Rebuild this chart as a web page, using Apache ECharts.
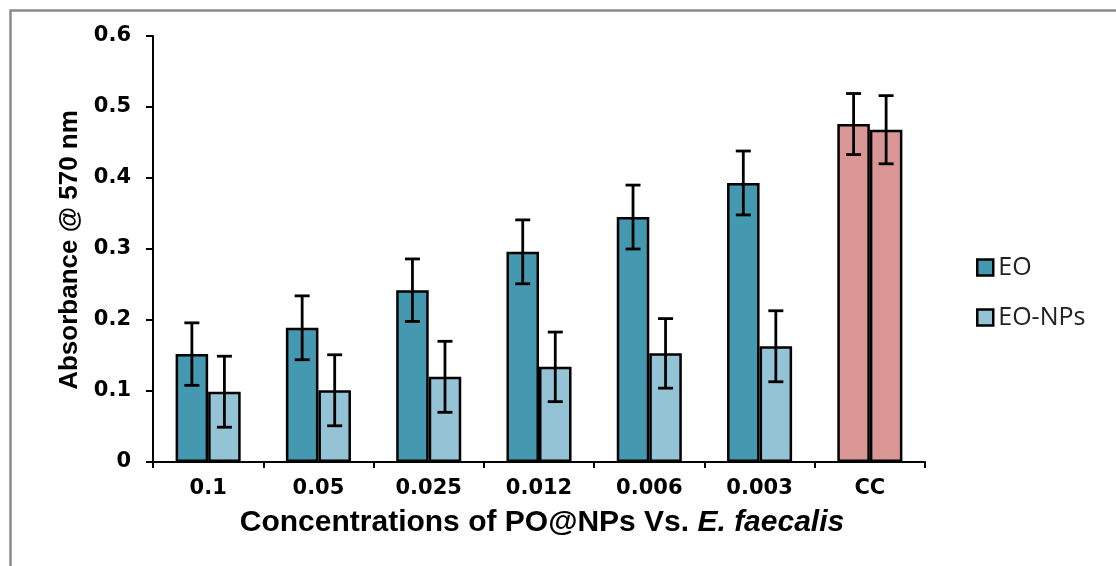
<!DOCTYPE html>
<html>
<head>
<meta charset="utf-8">
<script src="https://cdn.jsdelivr.net/npm/echarts@6/dist/echarts.min.js"></script>
<style>html,body{margin:0;padding:0;background:#fff;}#c{width:1116px;height:566px;}</style>
</head>
<body>
<div id="c"></div>
<script>
const categories = ['0.1', '0.05', '0.025', '0.012', '0.006', '0.003', 'CC'];
const eo = [0.152, 0.189, 0.242, 0.296, 0.345, 0.393, 0.476];
const eoErr = [0.044, 0.045, 0.044, 0.045, 0.045, 0.045, 0.043];
const eoNps = [0.099, 0.101, 0.120, 0.134, 0.153, 0.163, 0.468];
const eoNpsErr = [0.050, 0.050, 0.050, 0.049, 0.049, 0.050, 0.048];
const seriesNames = ['EO', 'EO-NPs'];

const colEO = '#4499B0', colNP = '#94C3D5', colCC = '#D99694';
const gapPct = 0.41;

function barData(vals, col) {
  return vals.map((v, i) => categories[i] === 'CC'
    ? { value: v, itemStyle: { color: colCC } }
    : { value: v, itemStyle: { color: col } });
}
const errData = [];
eo.forEach((v, i) => errData.push([i, v, eoErr[i], 0]));
eoNps.forEach((v, i) => errData.push([i, v, eoNpsErr[i], 1]));

const chart = echarts.init(document.getElementById('c'));
chart.setOption({
  animation: false,
  backgroundColor: '#fff',
  grid: { left: 153, right: 191, top: 36, bottom: 104, containLabel: false },
  legend: {
    data: seriesNames,
    orient: 'vertical',
    left: 976, top: 255,
    padding: 0,
    icon: 'rect',
    itemWidth: 16, itemHeight: 16, itemGap: 25,
    itemStyle: { borderColor: '#000', borderWidth: 2.5 },
    textStyle: { fontFamily: 'Open Sans', fontSize: 25, color: '#222', lineHeight: 24 }
  },
  xAxis: {
    type: 'category',
    data: categories,
    axisLine: { lineStyle: { color: '#000', width: 2 } },
    axisTick: { show: true, length: 6, lineStyle: { color: '#000', width: 2 } },
    axisLabel: { margin: 16, fontFamily: 'DejaVu Sans', fontWeight: 'bold', fontSize: 21, color: '#000' }
  },
  yAxis: {
    type: 'value',
    min: 0, max: 0.6, interval: 0.1,
    splitLine: { show: false },
    axisLine: { show: true, lineStyle: { color: '#000', width: 2 } },
    axisTick: { show: true, length: 7, lineStyle: { color: '#000', width: 2 } },
    axisLabel: { margin: 22, fontFamily: 'DejaVu Sans', fontWeight: 'bold', fontSize: 21, color: '#000',
      formatter: v => v === 0 ? '0' : v.toFixed(1) }
  },
  graphic: [
    { type: 'rect', left: 8, top: 8, shape: { x: 0, y: 0, width: 1200, height: 700 },
      style: { fill: 'none', stroke: '#8a8a8a', lineWidth: 2.5 }, silent: true },
    { type: 'text', x: 70, y: 250, rotation: Math.PI / 2,
      style: { text: 'Absorbance @ 570 nm', fontFamily: 'Liberation Sans', fontWeight: 'bold', fontSize: 26,
        fill: '#000', align: 'center', verticalAlign: 'middle' } },
    { type: 'text', x: 542, y: 523,
      style: { text: '{b|Concentrations of PO@NPs Vs. }{i|E. faecalis}', align: 'center', verticalAlign: 'middle',
        rich: {
          b: { fontFamily: 'Liberation Sans', fontWeight: 'bold', fontSize: 30, fill: '#000' },
          i: { fontFamily: 'Liberation Sans', fontWeight: 'bold', fontStyle: 'italic', fontSize: 30, fill: '#000' }
        } } }
  ],
  series: [
    { name: 'EO', type: 'bar', data: barData(eo, colEO), barGap: '0%', barCategoryGap: (gapPct * 100) + '%',
      itemStyle: { color: colEO, borderColor: '#000', borderWidth: 2.5 } },
    { name: 'EO-NPs', type: 'bar', data: barData(eoNps, colNP), barGap: '0%', barCategoryGap: (gapPct * 100) + '%',
      itemStyle: { color: colNP, borderColor: '#000', borderWidth: 2.5 } },
    { name: 'err', type: 'custom', data: errData, z: 10,
      encode: { x: 0, y: 1 },
      renderItem: function (params, api) {
        const cat = api.value(0), v = api.value(1), e = api.value(2), s = api.value(3);
        const band = api.size([1, 0])[0];
        const barW = band * (1 - gapPct) / 2;
        const cx = api.coord([cat, v])[0] + (s === 0 ? -barW / 2 : barW / 2);
        const yt = api.coord([cat, v + e])[1];
        const yb = api.coord([cat, v - e])[1];
        const hw = 7.5;
        const st = { stroke: '#000', lineWidth: 2.8 };
        return { type: 'group', children: [
          { type: 'line', shape: { x1: cx, y1: yt, x2: cx, y2: yb }, style: st },
          { type: 'line', shape: { x1: cx - hw, y1: yt, x2: cx + hw, y2: yt }, style: st },
          { type: 'line', shape: { x1: cx - hw, y1: yb, x2: cx + hw, y2: yb }, style: st }
        ] };
      }
    }
  ]
});
</script>
</body>
</html>
